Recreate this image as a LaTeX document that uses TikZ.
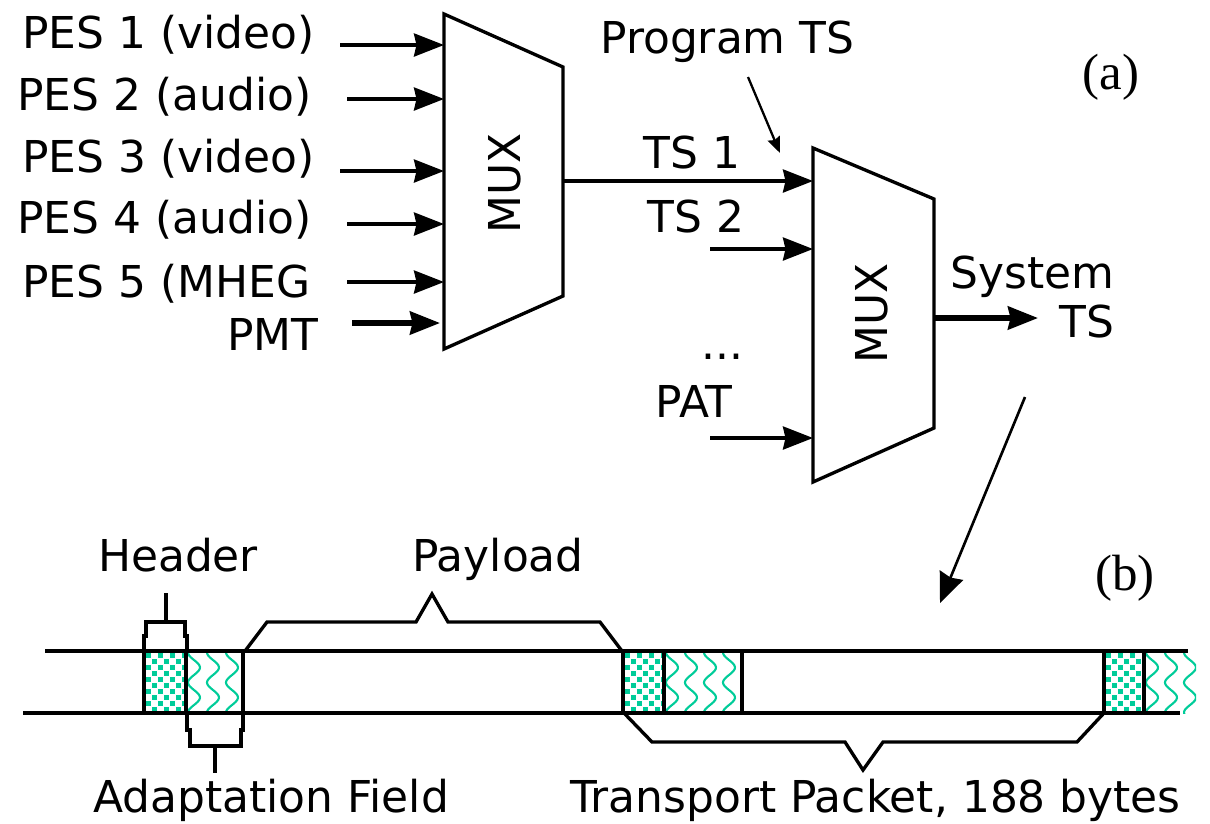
\documentclass[tikz,border=0pt]{standalone}
\usepackage{fontspec}
\setmainfont{DejaVu Sans}
\newfontfamily\tagfont{Liberation Serif}
\usetikzlibrary{arrows.meta}
\definecolor{pktgreen}{RGB}{0,204,153}

% checker cells of a header field
\newcommand{\checkfill}[2]{%
  \begin{scope}
    \clip (#1,651) rectangle (#2,713);
    \foreach \r in {0,...,10} {
      \foreach \c in {0,...,7} {
        \pgfmathtruncatemacro{\odd}{mod(\r+\c,2)}
        \ifnum\odd=0 \fill[pktgreen] ({#1+2+\c*6},{653+\r*6}) rectangle ++(5,5); \fi
      }
    }
  \end{scope}}
% wavy fill of an adaptation field
\newcommand{\wavefill}[2]{%
  \begin{scope}
    \clip (#1,651) rectangle (#2,713);
    \foreach \k in {0,...,4} {
      \draw[pktgreen, line width=1.2pt] plot[domain=640:725, samples=45, smooth] ({#1+8+\k*19+6*sin(\x*12)},\x);
    }
  \end{scope}}

\begin{document}
\begin{tikzpicture}[
  x=0.02cm, y=-0.02cm,
  lbl/.style={font=\fontsize{25}{30}\selectfont, inner sep=0pt},
  tag/.style={font=\tagfont\fontsize{29}{32}\selectfont, inner sep=0pt},
  muxbox/.style={draw, line width=1.9pt, line join=miter},
  arr/.style={-{Stealth[length=0.6cm, width=0.46cm, inset=0.05cm]}, line width=1.9pt},
  thickarr/.style={arr, line width=3pt},
  thinarr/.style={-{Stealth[length=0.32cm, width=0.26cm, inset=0.04cm]}, line width=1.3pt},
  bline/.style={line width=1.9pt},
  brace/.style={line width=1.9pt, line join=miter}
]
\useasboundingbox (0,0) rectangle (1210,823);

% (a) program multiplexer
\coordinate (m1nw) at (444,14);
\coordinate (m1ne) at (563,67);
\coordinate (m1se) at (563,296);
\coordinate (m1sw) at (444,349);
\draw[muxbox] (m1nw) -- (m1ne) -- (m1se) -- (m1sw) -- cycle;
\node[lbl, rotate=90] (mux1) at (505,183) {MUX};

\node[lbl, anchor=base west] (pes1) at (22,48) {PES 1 (video)};
\node[lbl, anchor=base west] (pes2) at (17,110) {PES 2 (audio)};
\node[lbl, anchor=base west] (pes3) at (22,172) {PES 3 (video)};
\node[lbl, anchor=base west] (pes4) at (17,233) {PES 4 (audio)};
\node[lbl, anchor=base west] (pes5) at (22,297) {PES 5 (MHEG};
\node[lbl, anchor=base west] (pmt) at (227,350) {PMT};

\foreach \y/\x [count=\i] in {45/340, 99/347, 171/340, 224/347, 282/347} {
  \coordinate (in\i) at (\x,\y);
  \draw[arr] (in\i) -- (in\i -| m1nw);
}
\coordinate (in6) at (352,323);
\draw[thickarr, shorten >=0.08cm] (in6) -- (in6 -| m1nw);

% (a) system multiplexer
\coordinate (m2nw) at (813,148);
\coordinate (m2ne) at (934,199);
\coordinate (m2se) at (934,428);
\coordinate (m2sw) at (813,482);
\draw[muxbox] (m2nw) -- (m2ne) -- (m2se) -- (m2sw) -- cycle;
\node[lbl, rotate=90] (mux2) at (872,313) {MUX};

\node[lbl, anchor=base west] (prog) at (600,53) {Program TS};
\node[lbl, anchor=base west] (ts1) at (643,168) {TS 1};
\node[lbl, anchor=base west] (ts2) at (647,232) {TS 2};
\node[lbl, anchor=base west] (more) at (701,359) {...};
\node[lbl, anchor=base west] (pat) at (655,417) {PAT};
\node[lbl, anchor=base east] (sys1) at (1115,288) {System};
\node[lbl, anchor=base east] (sys2) at (1115,337) {TS};

\coordinate (ts1in) at (563,181);
\coordinate (ts2in) at (710,249);
\coordinate (patin) at (710,438);
\draw[arr] (ts1in) -- (ts1in -| m2nw);
\draw[arr] (ts2in) -- (ts2in -| m2nw);
\draw[arr] (patin) -- (patin -| m2nw);
\coordinate (progfrom) at (748,77);
\coordinate (progto) at (780,153);
\draw[thinarr] (progfrom) -- (progto);
\coordinate (sysout) at (934,318);
\coordinate (sysend) at (1038,318);
\draw[thickarr] (sysout) -- (sysend);
\coordinate (down1) at (1025,397);
\coordinate (down2) at (940,603);
\draw[-{Stealth[length=0.6cm, width=0.5cm, inset=0.05cm]}, line width=1.5pt] (down1) -- (down2);

\node[tag] (taga) at (1111,77) {(a)};
\node[tag] (tagb) at (1125,578) {(b)};

% (b) transport stream
\checkfill{144}{186}
\wavefill{186}{243}
\checkfill{623}{664}
\wavefill{664}{742}
\checkfill{1104}{1144}
\wavefill{1144}{1196}

\draw[bline] (45,651) -- (1188,651);
\draw[bline] (23,713) -- (1180,713);
\foreach \x in {144,186,243,623,664,742,1104,1144}
  \draw[bline] (\x,651) -- (\x,713);

\draw[brace] (144,651) -- (144,636) -- (146,636) -- (146,622) -- (185,622) -- (185,636) -- (187,636) -- (187,651);
\draw[brace] (166,622) -- (166,593);
\draw[brace] (187,713) -- (187,730) -- (190,730) -- (190,746) -- (241,746) -- (241,730) -- (243,730) -- (243,713);
\draw[brace] (215,746) -- (215,773);
\draw[brace] (245,651) -- (267,622) -- (416,622) -- (432,594) -- (448,622) -- (600,622) -- (622,651);
\draw[brace] (624,713) -- (652,742) -- (845,742) -- (863,770) -- (883,742) -- (1077,742) -- (1104,713);

\node[lbl, anchor=base] (hdr) at (178,571) {Header};
\node[lbl, anchor=base] (pay) at (498,571) {Payload};
\node[lbl, anchor=base west] (adapt) at (93,812) {Adaptation Field};
\node[lbl, anchor=base west] (tpkt) at (570,812) {Transport Packet, 188 bytes};
\end{tikzpicture}
\end{document}
